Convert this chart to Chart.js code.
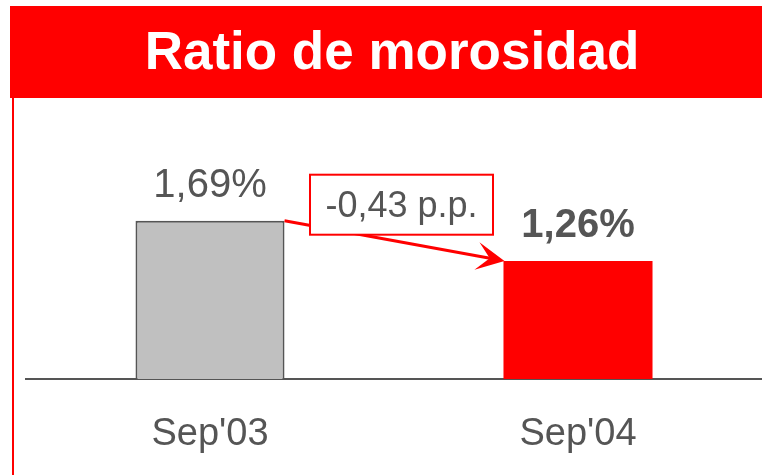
<!DOCTYPE html>
<html>
<head>
<meta charset="utf-8">
<script src="https://cdn.jsdelivr.net/npm/chart.js@4.4.1/dist/chart.umd.min.js"></script>
<style>
  html, body { margin: 0; padding: 0; background: #fff; }
  #wrap { position: relative; width: 762px; height: 475px; overflow: hidden; font-family: "Liberation Sans", Arial, sans-serif; }
  #banner { position: absolute; left: 10px; top: 6px; width: 752px; height: 92px; background: #ff0000;
            color: #fff; font-weight: bold; font-size: 53px; line-height: 90px; text-align: center; text-indent: 12px; }
  #leftLine { position: absolute; left: 12px; top: 98px; width: 2px; height: 377px; background: #ff0000; }
  #chartBox { position: absolute; left: 0; top: 0; width: 762px; height: 475px; }
</style>
</head>
<body>
<div id="wrap">
  <div id="chartBox"><canvas id="ratioChart" width="762" height="475"></canvas></div>
  <div id="banner">Ratio de morosidad</div>
  <div id="leftLine"></div>
</div>
<script>
// datos
const periodos = ["Sep'03", "Sep'04"];
const ratios = [1.69, 1.26];
const coloresBarra = ['#c0c0c0', '#ff0000'];
const bordesBarra = ['#555555', '#ff0000'];
const anchoBorde = [2, 0];

const fmt = v => v.toFixed(2).replace('.', ',');

// etiquetas de valor encima de cada barra + flecha con la diferencia
const etiquetasPlugin = {
    id: 'etiquetas',
    afterDatasetsDraw(chart) {
        const ctx = chart.ctx;
        const bars = chart.getDatasetMeta(0).data;
        ctx.save();

        // valores
        ctx.fillStyle = '#555555';
        ctx.textAlign = 'center';
        ctx.textBaseline = 'alphabetic';
        bars.forEach((bar, i) => {
            ctx.font = (i === 1 ? 'bold ' : '') + '40px "Liberation Sans", Arial, sans-serif';
            ctx.fillText(fmt(ratios[i]) + '%', bar.x, bar.y - 24);
        });

        // flecha
        const x1 = bars[0].x + bars[0].width / 2;
        const y1 = bars[0].y;
        const x2 = bars[1].x - bars[1].width / 2 + 1;
        const y2 = bars[1].y;
        const ang = Math.atan2(y2 - y1, x2 - x1);
        ctx.strokeStyle = '#ff0000';
        ctx.fillStyle = '#ff0000';
        ctx.lineWidth = 3;
        ctx.beginPath();
        ctx.moveTo(x1, y1);
        ctx.lineTo(x2 - 12 * Math.cos(ang), y2 - 12 * Math.sin(ang));
        ctx.stroke();
        const L = 28, W = 14, notch = 15;
        const ux = Math.cos(ang), uy = Math.sin(ang);
        ctx.beginPath();
        ctx.moveTo(x2, y2);
        ctx.lineTo(x2 - L * ux - W * uy, y2 - L * uy + W * ux);
        ctx.lineTo(x2 - notch * ux, y2 - notch * uy);
        ctx.lineTo(x2 - L * ux + W * uy, y2 - L * uy - W * ux);
        ctx.closePath();
        ctx.fill();

        // caja con la diferencia
        const dif = ratios[1] - ratios[0];
        const texto = (dif < 0 ? '-' : '+') + fmt(Math.abs(dif)) + ' p.p.';
        const cx = (x1 + x2) / 2 + 7;
        const bw = 183, bh = 60;
        const bx = cx - bw / 2, by = y1 - 46;
        ctx.fillStyle = '#ffffff';
        ctx.fillRect(bx, by, bw, bh);
        ctx.lineWidth = 2;
        ctx.strokeRect(bx, by, bw, bh);
        ctx.fillStyle = '#555555';
        ctx.font = '36px "Liberation Sans", Arial, sans-serif';
        ctx.fillText(texto, cx, by + 42);

        ctx.restore();
    }
};

const ctx = document.getElementById('ratioChart').getContext('2d');
const chart = new Chart(ctx, {
    type: 'bar',
    data: {
        labels: periodos,
        datasets: [{
            data: ratios,
            backgroundColor: coloresBarra,
            borderColor: bordesBarra,
            borderWidth: anchoBorde,
            categoryPercentage: 1,
            barPercentage: 0.405
        }]
    },
    options: {
        responsive: false,
        animation: false,
        layout: { padding: { left: 26, right: 0, top: 98, bottom: 0 } },
        plugins: { legend: { display: false }, tooltip: { enabled: false }, title: { display: false } },
        scales: {
            x: {
                grid: { display: false, drawTicks: false },
                border: { display: true, color: '#555555', width: 2 },
                ticks: {
                    color: '#555555',
                    padding: 33,
                    font: { family: '"Liberation Sans", Arial, sans-serif', size: 38 }
                },
                afterFit: s => { s.height = 96; }
            },
            y: {
                display: false,
                min: 0,
                max: 3
            }
        }
    },
    plugins: [etiquetasPlugin]
});
</script>
</body>
</html>
